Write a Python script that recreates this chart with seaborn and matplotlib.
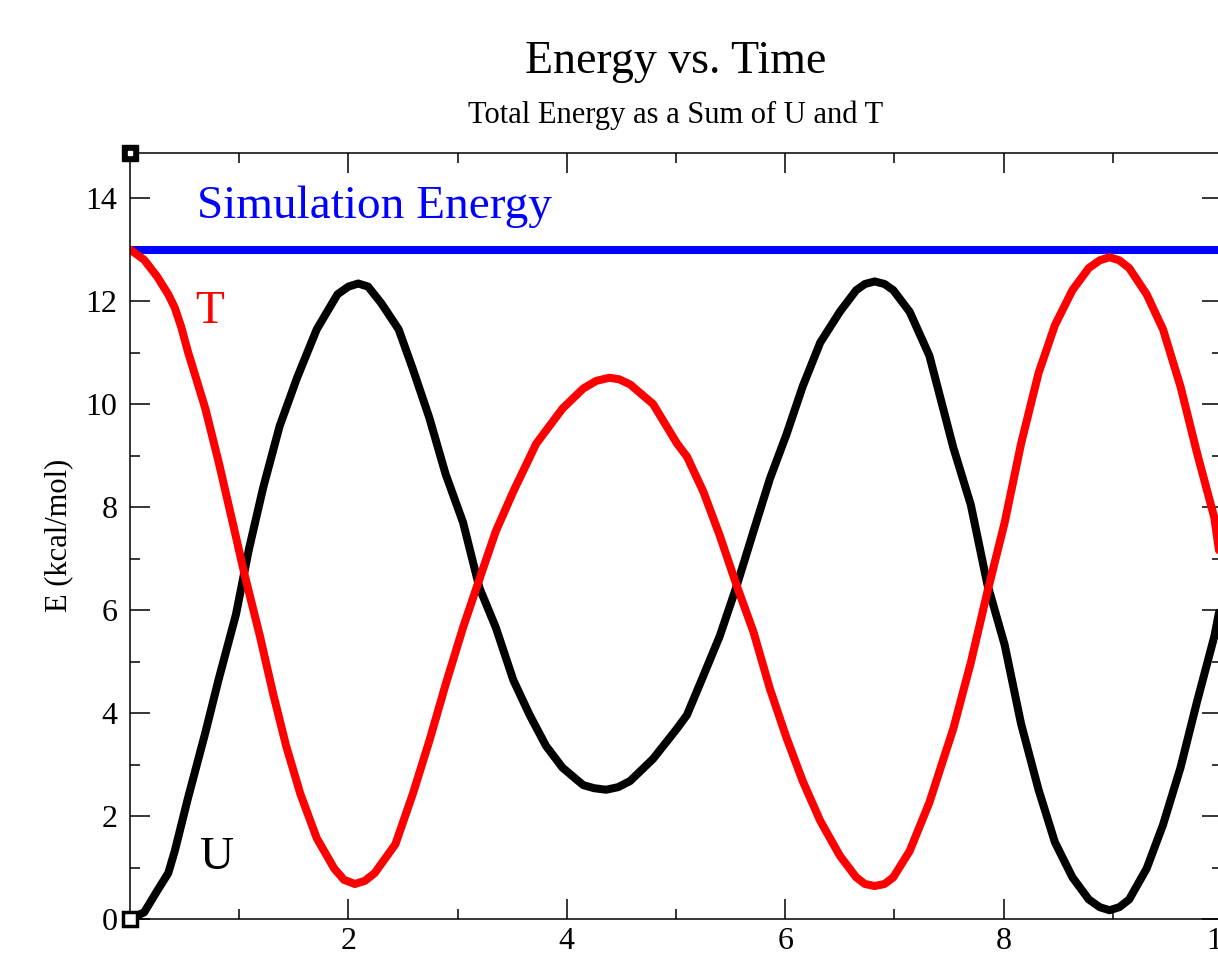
import numpy as np
import pandas as pd
import matplotlib
matplotlib.use("Agg")
import matplotlib.pyplot as plt
import seaborn as sns

# ---------------- data ----------------
TIME_T = [0.00, 0.13, 0.25, 0.35, 0.41, 0.47, 0.53, 0.69, 0.81, 0.94, 1.05, 1.19, 1.31, 1.43, 1.56,
          1.71, 1.87, 1.96, 2.06, 2.15, 2.24, 2.43, 2.59, 2.74, 2.89, 3.05, 3.20, 3.35, 3.51,
          3.72, 3.96, 4.15, 4.27, 4.39, 4.48, 4.58, 4.79, 5.01, 5.10, 5.25, 5.40, 5.55, 5.71,
          5.86, 6.01, 6.16, 6.32, 6.50, 6.65, 6.73, 6.82, 6.91, 6.99, 7.14, 7.32, 7.54, 7.70,
          7.85, 8.01, 8.16, 8.32, 8.47, 8.63, 8.78, 8.88, 8.97, 9.06, 9.15, 9.31, 9.46, 9.62,
          9.77, 9.93, 10.00]
T_VALUES = [13.00, 12.80, 12.47, 12.13, 11.87, 11.49, 11.02, 9.91, 8.89, 7.70, 6.68, 5.49, 4.38, 3.36, 2.43,
            1.57, 0.98, 0.76, 0.68, 0.74, 0.89, 1.45, 2.43, 3.45, 4.55, 5.66, 6.60, 7.53, 8.30,
            9.23, 9.91, 10.30, 10.45, 10.51, 10.48, 10.38, 10.00, 9.23, 8.98, 8.30, 7.45, 6.51, 5.57,
            4.47, 3.53, 2.68, 1.91, 1.23, 0.81, 0.68, 0.64, 0.68, 0.81, 1.32, 2.26, 3.70, 4.98,
            6.34, 7.70, 9.23, 10.60, 11.53, 12.21, 12.64, 12.79, 12.85, 12.79, 12.64, 12.13, 11.45, 10.34,
            9.06, 7.79, 6.75]

TIME_U = [0.00, 0.13, 0.25, 0.35, 0.41, 0.53, 0.69, 0.81, 0.97, 1.09, 1.22, 1.37, 1.53, 1.71,
          1.90, 2.00, 2.09, 2.18, 2.30, 2.46, 2.59, 2.74, 2.89, 3.05, 3.20, 3.35, 3.51, 3.66,
          3.81, 3.96, 4.15, 4.25, 4.36, 4.47, 4.58, 4.79, 5.01, 5.10, 5.25, 5.40, 5.55, 5.71,
          5.86, 6.01, 6.16, 6.32, 6.50, 6.65, 6.73, 6.82, 6.91, 6.99, 7.14, 7.32, 7.54, 7.70,
          7.85, 8.01, 8.16, 8.32, 8.47, 8.63, 8.78, 8.88, 8.97, 9.06, 9.15, 9.31, 9.46, 9.62,
          9.77, 9.93, 10.00]
U_VALUES = [0.00, 0.13, 0.55, 0.89, 1.32, 2.34, 3.62, 4.64, 5.91, 7.19, 8.38, 9.57, 10.51, 11.45,
            12.13, 12.28, 12.34, 12.28, 11.96, 11.45, 10.68, 9.74, 8.64, 7.70, 6.43, 5.66, 4.64, 3.96,
            3.36, 2.94, 2.60, 2.54, 2.51, 2.56, 2.68, 3.11, 3.70, 3.96, 4.72, 5.49, 6.43, 7.53,
            8.55, 9.40, 10.34, 11.19, 11.79, 12.21, 12.33, 12.38, 12.33, 12.21, 11.79, 10.94, 9.15, 8.04,
            6.51, 5.32, 3.79, 2.51, 1.49, 0.81, 0.38, 0.23, 0.17, 0.23, 0.38, 0.98, 1.83, 2.94,
            4.21, 5.49, 6.25]

TIME_SIM = [0.0, 10.0]
SIM_VALUES = [13.0, 13.0]

TITLE = "Energy vs. Time"
SUBTITLE = "Total Energy as a Sum of U and T"
Y_LABEL = "E (kcal/mol)"
X_TICKS = [2, 4, 6, 8, 10]
Y_TICKS = [0, 2, 4, 6, 8, 10, 12, 14]

# ---------------- style ----------------
sns.set_theme(style="ticks")
plt.rcParams['font.family'] = ['Liberation Serif', 'DejaVu Serif']
plt.rcParams['axes.edgecolor'] = 'black'
plt.rcParams['axes.linewidth'] = 1.1

fig = plt.figure(figsize=(12.18, 9.6), dpi=100)
ax = fig.add_axes([130 / 1218, 41 / 960, (1222 - 130) / 1218, (919 - 152.7) / 960])

df_t = pd.DataFrame({"time": TIME_T, "E": T_VALUES})
df_u = pd.DataFrame({"time": TIME_U, "E": U_VALUES})
df_s = pd.DataFrame({"time": TIME_SIM, "E": SIM_VALUES})

lw = 5.8
sns.lineplot(data=df_s, x="time", y="E", ax=ax, color="#0000ff", lw=lw,
             estimator=None, sort=False, clip_on=False, solid_capstyle="butt")
sns.lineplot(data=df_u, x="time", y="E", ax=ax, color="black", lw=lw,
             estimator=None, sort=False, solid_joinstyle="round", solid_capstyle="round")
sns.lineplot(data=df_t, x="time", y="E", ax=ax, color="#ff0000", lw=lw,
             estimator=None, sort=False, solid_joinstyle="round", solid_capstyle="round")

ax.set_xlim(0, 10)
ax.set_ylim(0, 14.88)
ax.set_xticks(X_TICKS)
ax.set_yticks(Y_TICKS)
ax.set_xticks([1, 3, 5, 7, 9], minor=True)
ax.set_yticks([1, 3, 5, 7, 9, 11, 13], minor=True)
ax.tick_params(which='both', direction='in', top=True, right=True, colors='black',
               width=1.1, labelsize=23)
ax.tick_params(which='major', length=14.4)
ax.tick_params(which='minor', length=7.2)
ax.tick_params(axis='y', pad=9)
ax.tick_params(axis='x', pad=6)
for s in ax.spines.values():
    s.set_visible(True)
    s.set_color('black')
    s.set_linewidth(1.1)

ax.set_xlabel("")
ax.set_ylabel(Y_LABEL, fontsize=22, color='black')
ax.yaxis.set_label_coords(-0.052, 0.5)

# in-plot labels
ax.text(0.61, 13.83, "Simulation Energy", color="#0000ff", fontsize=34,
        ha='left', va='center')
ax.text(0.73, 11.8, "T", color="#ff0000", fontsize=34, ha='center', va='center')
ax.text(0.80, 1.18, "U", color="black", fontsize=34, ha='center', va='center')

# titles
cx = (130 + (1222 - 130) / 2) / 1218
fig.text(cx, 1 - 62 / 960, TITLE, fontsize=33, ha='center', va='center', color='black')
fig.text(cx, 1 - 115 / 960, SUBTITLE, fontsize=22, ha='center', va='center', color='black')

# graph corner handles (decoration)
ax.plot([0], [1], transform=ax.transAxes, marker='s', ms=11, mfc='black', mec='black',
        clip_on=False, zorder=10)
ax.plot([0], [1], transform=ax.transAxes, marker='s', ms=3.5, mfc='white', mec='white',
        clip_on=False, zorder=11)
ax.plot([0], [0], transform=ax.transAxes, marker='s', ms=10, mfc='white', mec='black',
        mew=2.5, clip_on=False, zorder=10)

fig.savefig("out.png", dpi=100)
